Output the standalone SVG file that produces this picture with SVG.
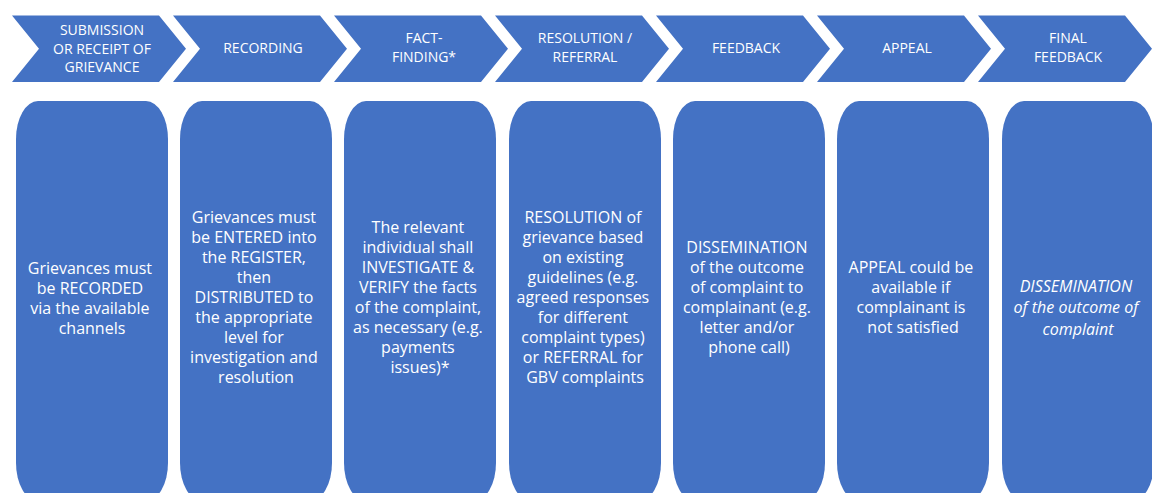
<svg xmlns="http://www.w3.org/2000/svg" width="1152" height="493" viewBox="0 0 1152 493">
  <defs>
    <style>
      .step { fill: #4472C4; }
      .card { fill: #4472C4; }
      .head { font-family: "Open Sans", "Liberation Sans", sans-serif; font-size: 14px; fill: #ffffff; text-anchor: middle; }
      .body { font-family: "Open Sans", "Liberation Sans", sans-serif; font-size: 16px; fill: #ffffff; text-anchor: middle; }
      .ital { font-style: italic; }
    </style>
    <!-- chevron: top edge 147 wide, point depth 27 -->
    <polygon id="chev" points="0,15.5 147,15.5 174,48.75 147,82 0,82 27,48.75"/>
    <rect id="card" x="0" y="101" width="152" height="400" rx="22" ry="38"/>
  </defs>

  <!-- process stages (top row) -->
  <g id="stage-submission">
    <use href="#chev" class="step" x="12"/>
    <text class="head"><tspan x="102" y="35">SUBMISSION</tspan><tspan x="102" y="53.5">OR RECEIPT OF</tspan><tspan x="102" y="72">GRIEVANCE</tspan></text>
  </g>
  <g id="stage-recording">
    <use href="#chev" class="step" x="173"/>
    <text class="head" x="263" y="53">RECORDING</text>
  </g>
  <g id="stage-fact-finding">
    <use href="#chev" class="step" x="334"/>
    <text class="head"><tspan x="424" y="43">FACT-</tspan><tspan x="424" y="62">FINDING*</tspan></text>
  </g>
  <g id="stage-resolution">
    <use href="#chev" class="step" x="495"/>
    <text class="head"><tspan x="585" y="43">RESOLUTION /</tspan><tspan x="585" y="62">REFERRAL</tspan></text>
  </g>
  <g id="stage-feedback">
    <use href="#chev" class="step" x="656"/>
    <text class="head" x="746" y="53">FEEDBACK</text>
  </g>
  <g id="stage-appeal">
    <use href="#chev" class="step" x="817"/>
    <text class="head" x="907" y="53">APPEAL</text>
  </g>
  <g id="stage-final-feedback">
    <use href="#chev" class="step" x="978"/>
    <text class="head"><tspan x="1068" y="43">FINAL</tspan><tspan x="1068" y="62">FEEDBACK</tspan></text>
  </g>

  <!-- stage descriptions (bottom row) -->
  <g id="card-submission">
    <use href="#card" class="card" x="16"/>
    <text class="body">
      <tspan x="92" y="274">Grievances must</tspan>
      <tspan x="92" y="294">be RECORDED</tspan>
      <tspan x="92" y="314">via the available</tspan>
      <tspan x="92" y="334">channels</tspan>
    </text>
  </g>
  <g id="card-recording">
    <use href="#card" class="card" x="180"/>
    <text class="body">
      <tspan x="256" y="223">Grievances must</tspan>
      <tspan x="256" y="243">be ENTERED into</tspan>
      <tspan x="256" y="263">the REGISTER,</tspan>
      <tspan x="256" y="283">then</tspan>
      <tspan x="256" y="303">DISTRIBUTED to</tspan>
      <tspan x="256" y="323">the appropriate</tspan>
      <tspan x="256" y="343">level  for</tspan>
      <tspan x="256" y="363">investigation and</tspan>
      <tspan x="256" y="383">resolution</tspan>
    </text>
  </g>
  <g id="card-fact-finding">
    <use href="#card" class="card" x="344"/>
    <text class="body">
      <tspan x="420" y="233">The relevant</tspan>
      <tspan x="420" y="253">individual shall</tspan>
      <tspan x="420" y="273">INVESTIGATE &amp;</tspan>
      <tspan x="420" y="293">VERIFY the facts</tspan>
      <tspan x="420" y="313">of the complaint,</tspan>
      <tspan x="420" y="333">as necessary (e.g.</tspan>
      <tspan x="420" y="353">payments</tspan>
      <tspan x="420" y="373">issues)*</tspan>
    </text>
  </g>
  <g id="card-resolution">
    <use href="#card" class="card" x="509"/>
    <text class="body">
      <tspan x="585" y="223">RESOLUTION of</tspan>
      <tspan x="585" y="243">grievance based</tspan>
      <tspan x="585" y="263">on existing</tspan>
      <tspan x="585" y="283">guidelines (e.g.</tspan>
      <tspan x="585" y="303">agreed responses</tspan>
      <tspan x="585" y="323">for different</tspan>
      <tspan x="585" y="343">complaint types)</tspan>
      <tspan x="585" y="363">or REFERRAL for</tspan>
      <tspan x="585" y="383">GBV complaints</tspan>
    </text>
  </g>
  <g id="card-feedback">
    <use href="#card" class="card" x="673"/>
    <text class="body">
      <tspan x="749" y="253">DISSEMINATION</tspan>
      <tspan x="749" y="273">of the outcome</tspan>
      <tspan x="749" y="293">of complaint to</tspan>
      <tspan x="749" y="313">complainant (e.g.</tspan>
      <tspan x="749" y="333">letter and/or</tspan>
      <tspan x="749" y="353">phone call)</tspan>
    </text>
  </g>
  <g id="card-appeal">
    <use href="#card" class="card" x="837"/>
    <text class="body">
      <tspan x="913" y="273">APPEAL could be</tspan>
      <tspan x="913" y="293">available if</tspan>
      <tspan x="913" y="313">complainant is</tspan>
      <tspan x="913" y="333">not satisfied</tspan>
    </text>
  </g>
  <g id="card-final-feedback">
    <use href="#card" class="card" x="1002"/>
    <text class="body ital">
      <tspan x="1078" y="292">DISSEMINATION</tspan>
      <tspan x="1078" y="313">of the outcome of</tspan>
      <tspan x="1078" y="335">complaint</tspan>
    </text>
  </g>

  <!-- the stages are laid out as a strip; no separate connectors -->
  <g id="connectors"/>
</svg>
